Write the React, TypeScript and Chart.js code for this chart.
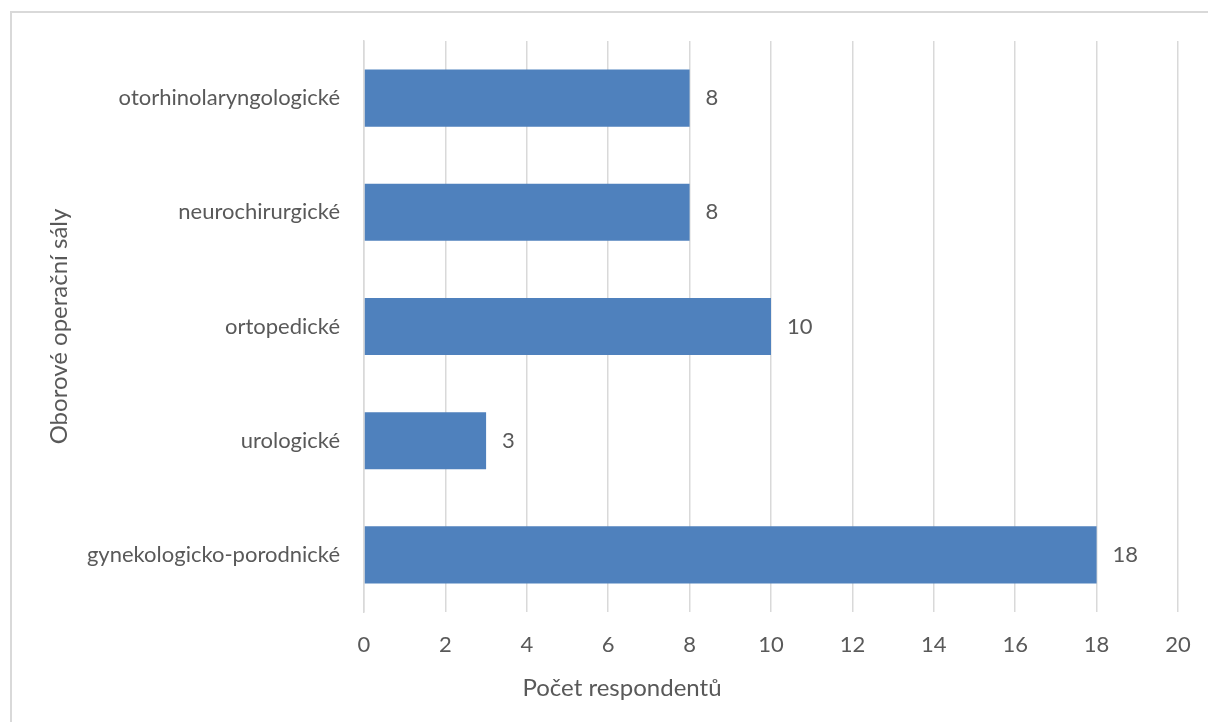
import React, { useEffect, useRef } from "react";
import { Chart, registerables } from "chart.js";

Chart.register(...registerables);

const categories = [
  "otorhinolaryngologické",
  "neurochirurgické",
  "ortopedické",
  "urologické",
  "gynekologicko-porodnické",
];
const respondents = [8, 8, 10, 3, 18];
const xMin = 0;
const xMax = 20;
const xStep = 2;
const xTitle = "Počet respondentů";
const yTitle = "Oborové operační sály";

const FONT = "Lato, 'Open Sans', sans-serif";
const TEXT = "#595959";
const GRID = "#d9d9d9";
const BAR = "#4f81bd";

// Value next to the end of each bar
const valueLabels = {
  id: "valueLabels",
  afterDatasetsDraw(chart: any) {
    const { ctx } = chart;
    const meta = chart.getDatasetMeta(0);
    const data = chart.data.datasets[0].data as number[];
    ctx.save();
    ctx.font = `22px ${FONT}`;
    ctx.fillStyle = TEXT;
    ctx.textAlign = "left";
    ctx.textBaseline = "middle";
    meta.data.forEach((bar: any, i: number) => {
      ctx.fillText(String(data[i]), bar.x + 16, bar.y);
    });
    ctx.restore();
  },
};

// Horizontal axis title, centred under the whole chart frame
const bottomTitle = {
  id: "bottomTitle",
  afterDraw(chart: any) {
    const { ctx } = chart;
    ctx.save();
    ctx.font = `24px ${FONT}`;
    ctx.fillStyle = TEXT;
    ctx.textAlign = "center";
    ctx.textBaseline = "middle";
    ctx.fillText(xTitle, 622, 688);
    ctx.restore();
  },
};

export default function App() {
  const canvasRef = useRef<HTMLCanvasElement | null>(null);

  useEffect(() => {
    if (!canvasRef.current) return;
    const chart = new Chart(canvasRef.current, {
      type: "bar",
      data: {
        labels: categories,
        datasets: [
          {
            data: respondents,
            backgroundColor: BAR,
            barPercentage: 0.5,
            categoryPercentage: 1,
          },
        ],
      },
      options: {
        indexAxis: "y",
        animation: false,
        responsive: false,
        maintainAspectRatio: false,
        layout: { padding: { left: 0, top: 41, right: 30, bottom: 0 } },
        plugins: {
          legend: { display: false },
          tooltip: { enabled: false },
        },
        scales: {
          x: {
            min: xMin,
            max: xMax,
            ticks: {
              stepSize: xStep,
              color: TEXT,
              font: { family: FONT, size: 22 },
              padding: 20,
            },
            grid: { color: GRID, lineWidth: 1.5, drawTicks: false },
            border: { display: false },
            title: { display: false },
            afterFit(scale: any) {
              scale.height = 110;
              scale.paddingRight = 0;
              scale.paddingLeft = 0;
            },
          },
          y: {
            ticks: {
              color: TEXT,
              font: { family: FONT, size: 22 },
              padding: 24,
            },
            grid: { display: false, drawTicks: false },
            border: { display: true, color: GRID, width: 1.5 },
            title: {
              display: true,
              text: yTitle,
              color: TEXT,
              font: { family: FONT, size: 24 },
              padding: 45,
            },
            afterFit(scale: any) {
              scale.width = 364;
            },
          },
        },
      },
      plugins: [valueLabels, bottomTitle],
    });
    return () => chart.destroy();
  }, []);

  return (
    <div
      style={{
        position: "fixed",
        left: 0,
        top: 0,
        width: 1208,
        height: 722,
        overflow: "hidden",
        background: "#fff",
      }}
    >
      <div
        style={{
          position: "absolute",
          left: 10,
          top: 11,
          width: 1220,
          height: 740,
          border: "2px solid #d9d9d9",
          boxSizing: "border-box",
        }}
      />
      <canvas
        ref={canvasRef}
        width={1208}
        height={722}
        style={{ position: "absolute", left: 0, top: 0 }}
      />
    </div>
  );
}
